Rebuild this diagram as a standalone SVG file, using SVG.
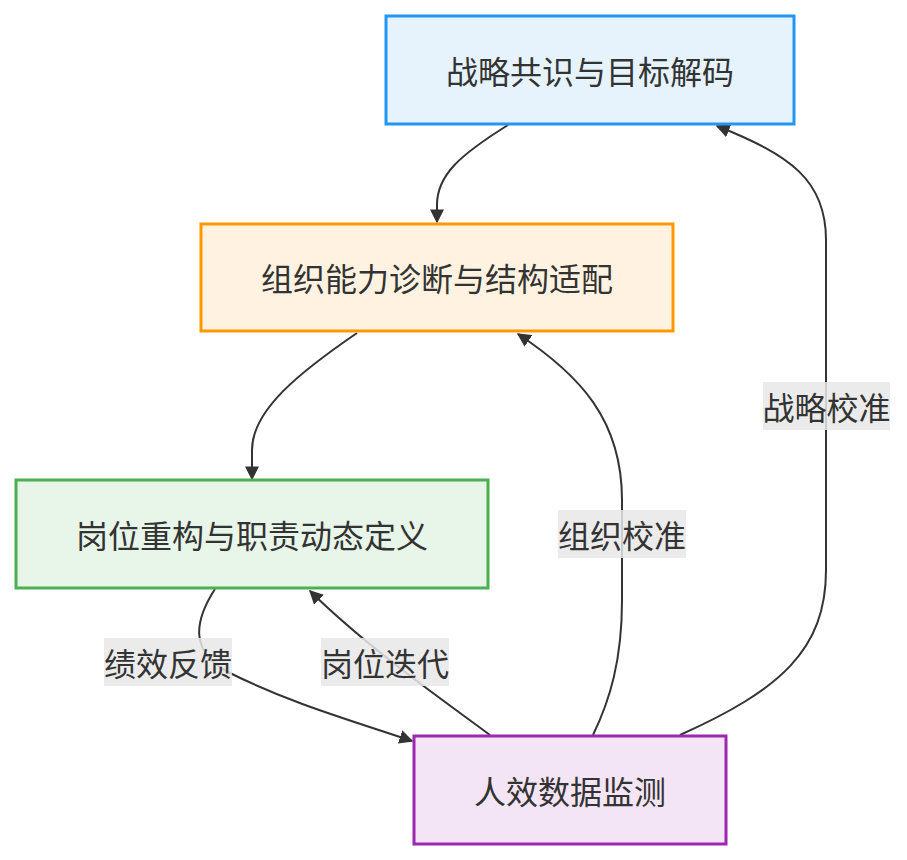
<svg xmlns="http://www.w3.org/2000/svg" width="907" height="860" viewBox="0 0 907 860">
<style>
.node rect{stroke-width:3}
.node text,.lbl text{font-family:"Noto Sans CJK SC","Noto Sans",sans-serif;font-size:32px;fill:#333;text-anchor:middle;dominant-baseline:central}
.edge{fill:none;stroke:#333;stroke-width:2;marker-end:url(#arr)}
.lbl rect{fill:#e8e8e8;opacity:0.85}
</style>
<defs>
<marker id="arr" viewBox="0 0 10 10" refX="9" refY="5" markerWidth="14" markerHeight="14" markerUnits="userSpaceOnUse" orient="auto">
<path d="M0,0 L10,5 L0,10 z" fill="#333"/>
</marker>
</defs>
<rect width="907" height="860" fill="#fff"/>
<g id="connectors">
<path class="edge" d="M508,125 C460,155 437,175 437,205 L437,222"/>
<path class="edge" d="M357,333 C300,372 252,410 252,450 L252,479"/>
<path class="edge" d="M215,589 C195,620 188,652 230,673 C290,703 350,720 412,741"/>
<path class="edge" d="M490,735 C450,705 370,650 310,591"/>
<path class="edge" d="M593,735 C610,700 622,660 622,600 L622,500 C622,420 580,375 518,334"/>
<path class="edge" d="M680,735 C780,690 826,650 826,570 L826,240 C826,180 790,155 717,126"/>
</g>
<g id="A" class="node"><rect x="386" y="16" width="408" height="108" fill="#e6f3fd" stroke="#2196f3"/><text x="590" y="70">战略共识与目标解码</text></g>
<g id="B" class="node"><rect x="201" y="224" width="472" height="107" fill="#fff2e0" stroke="#ff9800"/><text x="437" y="277">组织能力诊断与结构适配</text></g>
<g id="C" class="node"><rect x="16" y="480" width="472" height="108" fill="#e8f5e9" stroke="#4caf50"/><text x="252" y="534">岗位重构与职责动态定义</text></g>
<g id="D" class="node"><rect x="414" y="736" width="312" height="108" fill="#f3e5f5" stroke="#9c27b0"/><text x="570" y="790">人效数据监测</text></g>
<g id="labels">
<g class="lbl"><rect x="763" y="382" width="127" height="48"/><text x="826.5" y="406">战略校准</text></g>
<g class="lbl"><rect x="558" y="510" width="128" height="48"/><text x="622" y="534">组织校准</text></g>
<g class="lbl"><rect x="104" y="638" width="128" height="48"/><text x="168" y="662">绩效反馈</text></g>
<g class="lbl"><rect x="321" y="638" width="128" height="48"/><text x="385" y="662">岗位迭代</text></g>
</g>
</svg>
